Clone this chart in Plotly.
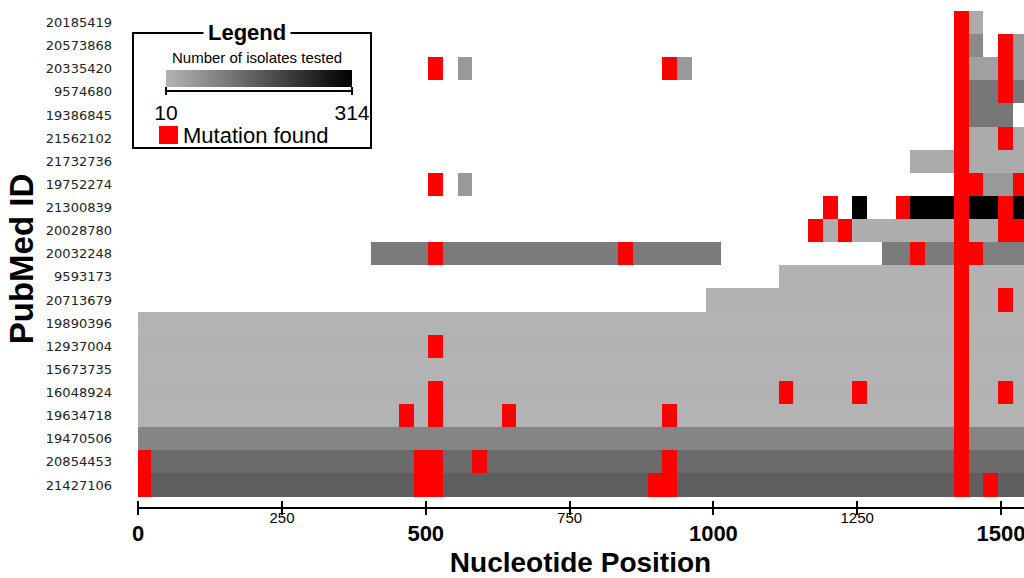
import plotly.graph_objects as go

# Rows (top to bottom)
pubmed_ids = ["20185419", "20573868", "20335420", "9574680", "19386845", "21562102",
              "21732736", "19752274", "21300839", "20028780", "20032248", "9593173",
              "20713679", "19890396", "12937004", "15673735", "16048924", "19634718",
              "19470506", "20854453", "21427106"]

# Tested regions: (PubMed ID, start nt, end nt, number of isolates tested)
tested_regions = [
    ("20185419", 1444, 1469, 25),
    ("20573868", 1444, 1469, 81), ("20573868", 1521, 1540, 56),
    ("20335420", 556, 580, 56), ("20335420", 937, 963, 56), ("20335420", 1444, 1495, 44), ("20335420", 1521, 1540, 56),
    ("9574680", 1444, 1495, 113), ("9574680", 1521, 1540, 113),
    ("19386845", 1444, 1521, 113),
    ("21562102", 1444, 1495, 25), ("21562102", 1521, 1540, 25),
    ("21732736", 1342, 1418, 25), ("21732736", 1444, 1540, 25),
    ("19752274", 556, 580, 56), ("19752274", 1469, 1521, 56),
    ("21300839", 1241, 1267, 314), ("21300839", 1342, 1418, 314), ("21300839", 1444, 1495, 314), ("21300839", 1521, 1540, 314),
    ("20028780", 1190, 1216, 20), ("20028780", 1241, 1418, 20), ("20028780", 1444, 1495, 20),
    ("20032248", 405, 1013, 106), ("20032248", 1293, 1418, 106), ("20032248", 1469, 1540, 100),
    ("9593173", 1114, 1540, 13),
    ("20713679", 987, 1540, 13),
    ("19890396", 0, 1540, 12),
    ("12937004", 0, 1540, 13),
    ("15673735", 0, 1540, 12),
    ("16048924", 0, 1540, 13),
    ("19634718", 0, 1540, 12),
    ("19470506", 0, 1540, 89),
    ("20854453", 0, 1540, 133),
    ("21427106", 0, 1540, 155),
]

# Mutations found: (PubMed ID, start nt, end nt)
mutations = [
    ("20185419", 1418, 1444),
    ("20573868", 1418, 1444), ("20573868", 1495, 1521),
    ("20335420", 504, 530), ("20335420", 911, 937), ("20335420", 1418, 1444), ("20335420", 1495, 1521),
    ("9574680", 1418, 1444), ("9574680", 1495, 1521),
    ("19386845", 1418, 1444),
    ("21562102", 1418, 1444), ("21562102", 1495, 1521),
    ("21732736", 1418, 1444),
    ("19752274", 504, 530), ("19752274", 1418, 1469), ("19752274", 1521, 1540),
    ("21300839", 1190, 1216), ("21300839", 1318, 1342), ("21300839", 1418, 1444), ("21300839", 1495, 1521),
    ("20028780", 1165, 1190), ("20028780", 1216, 1241), ("20028780", 1418, 1444), ("20028780", 1495, 1540),
    ("20032248", 504, 530), ("20032248", 834, 860), ("20032248", 1342, 1368), ("20032248", 1418, 1469),
    ("9593173", 1418, 1444),
    ("20713679", 1418, 1444), ("20713679", 1495, 1521),
    ("19890396", 1418, 1444),
    ("12937004", 504, 530), ("12937004", 1418, 1444),
    ("15673735", 1418, 1444),
    ("16048924", 504, 530), ("16048924", 1114, 1139), ("16048924", 1241, 1267), ("16048924", 1418, 1444), ("16048924", 1495, 1521),
    ("19634718", 453, 480), ("19634718", 504, 530), ("19634718", 633, 657), ("19634718", 911, 937), ("19634718", 1418, 1444),
    ("19470506", 1418, 1444),
    ("20854453", 0, 22), ("20854453", 480, 530), ("20854453", 580, 606), ("20854453", 911, 937), ("20854453", 1418, 1444),
    ("21427106", 0, 22), ("21427106", 480, 530), ("21427106", 886, 937), ("21427106", 1418, 1444), ("21427106", 1469, 1495),
]

major_ticks = [0, 500, 1000, 1500]
minor_ticks = [250, 750, 1250]
isolate_min, isolate_max = 10, 314

# ---- geometry helpers (layout only) ----
W, H = 1024, 578
ML, MR, MT, MB = 137, 0, 11, 71
PW, PH = W - ML - MR, H - MT - MB
def px(x):
    return (x - ML) / PW
def py(y):
    return (H - MB - y) / PH

gray_scale = [[0, "#b4b4b4"], [1, "#000000"]]
sans = "Liberation Sans, Arial, sans-serif"

fig = go.Figure()
fig.add_trace(go.Bar(
    orientation="h",
    y=[r[0] for r in tested_regions],
    base=[r[1] for r in tested_regions],
    x=[r[2] - r[1] for r in tested_regions],
    width=1.0,
    marker=dict(
        color=[r[3] for r in tested_regions],
        colorscale=gray_scale, cmin=isolate_min, cmax=isolate_max,
        line=dict(width=0),
        showscale=True,
        colorbar=dict(
            orientation="h", x=px(259), xanchor="center", y=py(70), yanchor="top",
            len=186, lenmode="pixels", thickness=17, thicknessmode="pixels",
            outlinewidth=0, xpad=0, ypad=0,
            tickvals=[isolate_min, isolate_max], ticktext=[str(isolate_min), str(isolate_max)],
            ticks="outside", ticklen=8, tickwidth=2, tickcolor="black",
            tickfont=dict(family=sans, size=21, color="black"),
        ),
    ),
    showlegend=False, hoverinfo="skip",
))
fig.add_trace(go.Bar(
    orientation="h",
    y=[m[0] for m in mutations],
    base=[m[1] for m in mutations],
    x=[m[2] - m[1] for m in mutations],
    width=1.0,
    marker=dict(color="#ff0000", line=dict(width=0)),
    showlegend=False, hoverinfo="skip",
))
# helper trace so the secondary (minor-label) axis is drawn
fig.add_trace(go.Scatter(x=[], y=[], xaxis="x2", showlegend=False, hoverinfo="skip"))

all_ticks = sorted(major_ticks + minor_ticks)

fig.update_layout(
    width=W, height=H,
    margin=dict(l=ML, r=MR, t=MT, b=MB, pad=0, autoexpand=False),
    paper_bgcolor="white", plot_bgcolor="white",
    barmode="overlay",
    bargap=0,
    xaxis=dict(
        range=[-2, 1540], showgrid=False, zeroline=False, automargin=False,
        showline=True, linewidth=2, linecolor="black",
        tickvals=all_ticks,
        ticktext=[f"<b>{t}</b>" if t in major_ticks else "" for t in all_ticks],
        ticks="outside", ticklen=6, tickwidth=2, tickcolor="black",
        ticklabeloverflow="allow",
        tickfont=dict(family=sans, size=22, color="black"),
        title=dict(text="<b>Nucleotide Position</b>", standoff=14,
                   font=dict(family=sans, size=28, color="black")),
    ),
    xaxis2=dict(
        range=[-2, 1540], overlaying="x", anchor="y", side="bottom", automargin=False,
        showgrid=False, zeroline=False, showline=False,
        tickvals=all_ticks,
        ticktext=[str(t) if t in minor_ticks else "" for t in all_ticks],
        ticks="inside", ticklen=6, tickwidth=2, tickcolor="black",
        ticklabeloverflow="allow",
        tickfont=dict(family=sans, size=15, color="black"),
    ),
    yaxis=dict(
        type="category", categoryorder="array", categoryarray=pubmed_ids[::-1],
        range=[-0.95, 20.5], showgrid=False, zeroline=False, showline=False, automargin=False,
        ticks="", ticklabelstandoff=24,
        tickfont=dict(family="DejaVu Sans, sans-serif", size=13, color="#222222"),
        title=dict(text="<b>PubMed ID</b>", standoff=2,
                   font=dict(family=sans, size=33, color="black")),
    ),
    shapes=[
        dict(type="rect", xref="paper", yref="paper", x0=px(133), x1=px(371), y0=py(33), y1=py(148),
             line=dict(color="black", width=2), fillcolor="rgba(0,0,0,0)", layer="above"),
        dict(type="line", xref="paper", yref="paper", x0=px(166), x1=px(352), y0=py(91), y1=py(91),
             line=dict(color="black", width=2), layer="above"),
        dict(type="rect", xref="paper", yref="paper", x0=px(159), x1=px(178), y0=py(126), y1=py(144),
             line=dict(width=0), fillcolor="#ff0000", layer="above"),
    ],
    annotations=[
        dict(xref="paper", yref="paper", x=px(247), y=py(33), text="<b>Legend</b>", showarrow=False,
             xanchor="center", yanchor="middle", bgcolor="white", borderpad=4,
             font=dict(family=sans, size=22, color="black")),
        dict(xref="paper", yref="paper", x=px(257), y=py(57), text="Number of isolates tested", showarrow=False,
             xanchor="center", yanchor="middle",
             font=dict(family=sans, size=15, color="black")),
        dict(xref="paper", yref="paper", x=px(181), y=py(135), text="Mutation found", showarrow=False,
             xanchor="left", yanchor="middle",
             font=dict(family=sans, size=22, color="black")),
    ],
)

fig.write_html("out.html",
               config={"displayModeBar": False},
               post_script="document.body.style.margin='0';document.body.style.overflow='hidden';")
